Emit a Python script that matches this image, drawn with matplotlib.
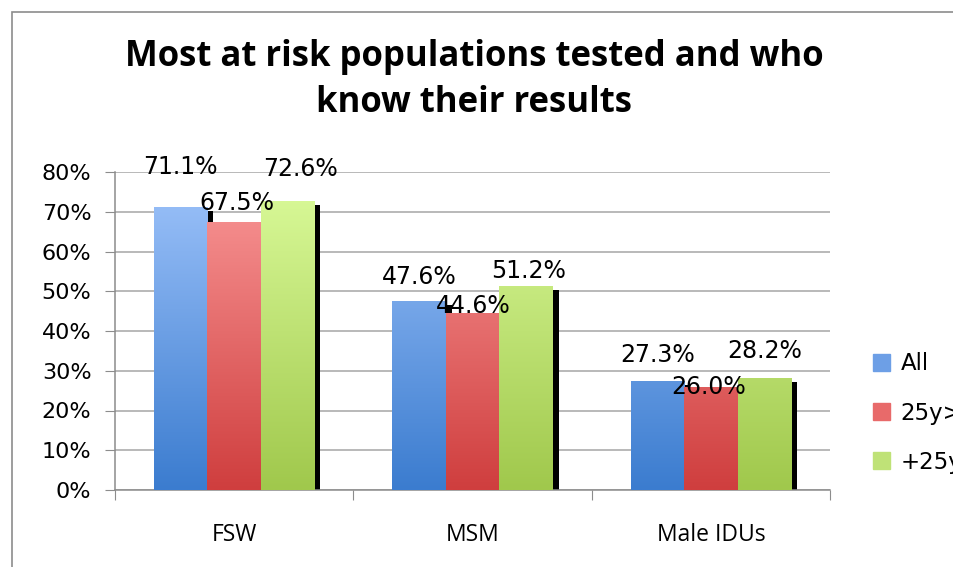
import numpy as np
import matplotlib
matplotlib.use("Agg")
import matplotlib.pyplot as plt
import matplotlib.patches as patches
import matplotlib.transforms as mtransforms
from matplotlib.colors import LinearSegmentedColormap

categories = ["FSW", "MSM", "Male IDUs"]
series = ["All", "25y>", "+25y"]
values = [
    [71.1, 47.6, 27.3],   # All
    [67.5, 44.6, 26.0],   # 25y>
    [72.6, 51.2, 28.2],   # +25y
]
yticks = [0, 10, 20, 30, 40, 50, 60, 70, 80]

# gradient colours (top, bottom) per series
grad = [("#9fc4fb", "#3b7ccf"), ("#fb9a9a", "#cf3e3e"), ("#dcfc9c", "#a0c84c")]
legend_colors = ["#6d9fe6", "#e86a6a", "#bfe277"]
# label offsets from each bar top, in pixels (series x category)
label_dy = [[40, 24, 26], [19, 7, 0], [32, 15, 27]]
label_dx = [[0, 0, 0], [3, 1, -2], [13, 3, 0]]

fig = plt.figure(figsize=(9.54, 5.67), dpi=100)
ax = fig.add_axes([115 / 954, 77 / 567, 715 / 954, 318 / 567])

# outer chart frame
fig.patches.append(patches.Rectangle((12 / 954, -0.1), 1.2, 1 - 12 / 567 + 0.1,
                                     transform=fig.transFigure, fill=False,
                                     edgecolor="#8c8c8c", linewidth=1.2))

x = np.arange(len(categories))
width = 0.224
shadow = mtransforms.ScaledTranslation(6 / 100, -4 / 100, fig.dpi_scale_trans)

for i, name in enumerate(series):
    xs = x + (i - 1) * width
    vals = np.array(values[i]) / 100
    # black shadow behind the bars
    ax.bar(xs, vals, width, color="black", zorder=1,
           transform=ax.transData + shadow)
    bars = ax.bar(xs, vals, width, color=legend_colors[i], zorder=2,
                  label=name, linewidth=0)
    cmap = LinearSegmentedColormap.from_list("g%d" % i, [grad[i][1], grad[i][0]])
    for b in bars:
        x0 = b.get_x()
        im = ax.imshow(np.linspace(0, 1, 256).reshape(-1, 1), cmap=cmap,
                       extent=[x0, x0 + b.get_width(), 0, 0.8], origin="lower",
                       aspect="auto", zorder=3, interpolation="bilinear")
        im.set_clip_path(b)
    for j, b in enumerate(bars):
        ax.annotate("%.1f%%" % values[i][j],
                    (b.get_x() + b.get_width() / 2, b.get_height()),
                    xytext=(label_dx[i][j], label_dy[i][j]), textcoords="offset pixels",
                    ha="center", va="center", fontsize=17,
                    family="DejaVu Sans", zorder=5)

ax.set_xlim(-0.5, len(categories) - 0.5)
ax.set_ylim(0, 0.8)
ax.set_yticks([v / 100 for v in yticks])
ax.set_yticklabels(["%d%%" % v for v in yticks], fontsize=16, family="DejaVu Sans")
ax.yaxis.grid(True, color="#a6a6a6", linewidth=1.1, zorder=0)
ax.set_axisbelow(True)
ax.set_xticks(np.arange(-0.5, len(categories)), minor=False)
ax.set_xticklabels([])
ax.set_xticks(x, minor=True)
ax.set_xticklabels(categories, minor=True, fontsize=16.5, family="Open Sans")
ax.tick_params(axis="x", which="minor", length=0, pad=24)
ax.tick_params(axis="x", which="major", length=7, color="#8c8c8c", direction="out")
ax.tick_params(axis="y", length=7, color="#8c8c8c", direction="out", pad=10)
for s in ["top", "right"]:
    ax.spines[s].set_visible(False)
for s in ["left", "bottom"]:
    ax.spines[s].set_color("#8c8c8c")
    ax.spines[s].set_linewidth(1.1)

fig.text(474 / 954, 1 - 80 / 567, "Most at risk populations tested and who\nknow their results",
         ha="center", va="center", fontsize=25, fontweight="bold", family="Open Sans",
         linespacing=1.35)

handles = [patches.Patch(color=c) for c in legend_colors]
fig.legend(handles, series, loc="upper left", bbox_to_anchor=(864 / 954, 1 - 343 / 567),
           frameon=False, prop={"family": "DejaVu Sans", "size": 16.5},
           handlelength=0.75, handleheight=0.75, handletextpad=0.45, labelspacing=1.15,
           borderaxespad=0)

fig.savefig("out.png", dpi=100)
